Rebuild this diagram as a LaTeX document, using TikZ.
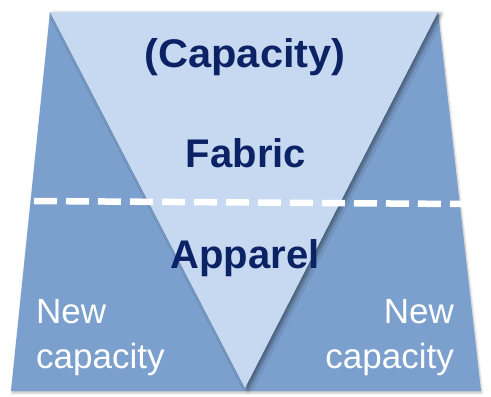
\documentclass[tikz,border=0pt]{standalone}
\usepackage{fontspec}
\setmainfont{Liberation Sans}
\usetikzlibrary{shadows.blur}
\definecolor{trapblue}{HTML}{7BA0CD}
\definecolor{trilight}{HTML}{C6D9F1}
\definecolor{navy}{HTML}{0B2265}
\tikzset{
  headtext/.style={font=\fontsize{40}{44}\selectfont\bfseries, text=navy, anchor=base, inner sep=0pt},
  sidetext/.style={font=\fontsize{35}{45}\selectfont, text=white, inner sep=0pt, align=left},
}
\begin{document}
\begin{tikzpicture}[x=1pt,y=-1pt]
\useasboundingbox (0,0) rectangle (491,397);
% trapezoid
\fill[trapblue, blur shadow={shadow xshift=1pt, shadow yshift=-2pt, shadow blur steps=5, shadow opacity=25}]
  (50,12) -- (438,12) -- (481,391) -- (11,391) -- cycle;
% inverted triangle
\fill[trilight, blur shadow={shadow xshift=3pt, shadow yshift=-2pt, shadow blur radius=4pt, shadow blur steps=6, shadow opacity=45}]
  (50,12) -- (438,12) -- (245,388) -- cycle;
% dashed divider
\draw[white, line width=6.5pt, dash pattern=on 23pt off 9pt] (34,201) -- (462,204);
% texts
\node[headtext, xscale=1.04] (cap) at (245,67) {(Capacity)};
\node[headtext] (fab) at (246,167) {Fabric};
\node[headtext] (app) at (245,268) {Apparel};
\node[sidetext, anchor=base west] (nl) at (36,368) {New\\capacity};
\node[sidetext, anchor=base east, align=right] (nr) at (454,368) {New\\capacity};
\end{tikzpicture}
\end{document}
